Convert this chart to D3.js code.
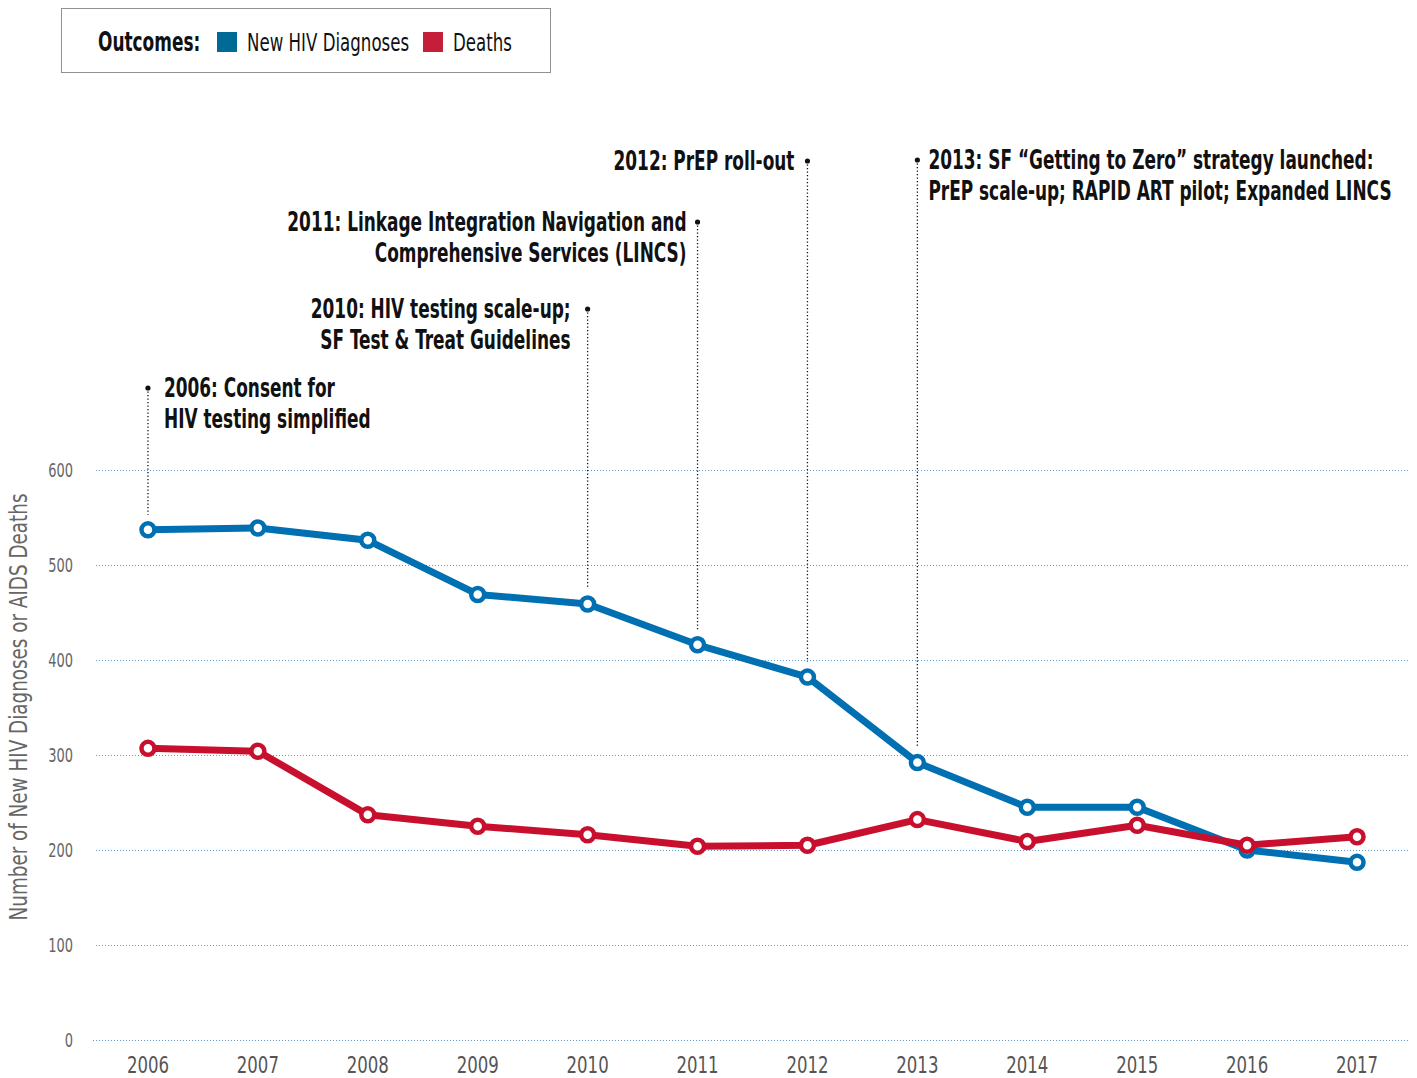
<!DOCTYPE html>
<html>
<head>
<meta charset="utf-8">
<script src="https://cdn.jsdelivr.net/npm/d3@7"></script>
<style>
  html, body { margin: 0; padding: 0; background: #fff; }
  svg { display: block; }
  text { font-family: "Liberation Sans Narrow", "DejaVu Sans Condensed", "DejaVu Sans", sans-serif; }
</style>
</head>
<body>
<svg id="chart" width="1417" height="1078"></svg>
<script>
// ---- data ----
const years = [2006, 2007, 2008, 2009, 2010, 2011, 2012, 2013, 2014, 2015, 2016, 2017];
const newDiagnoses = [537, 539, 526, 469, 459, 416, 382, 292, 245, 245, 200, 187];
const deaths = [307, 304, 237, 225, 216, 204, 205, 232, 209, 226, 205, 214];
const yTicks = [0, 100, 200, 300, 400, 500, 600];
const seriesNames = ["New HIV Diagnoses", "Deaths"];
const annotationYears = [2006, 2010, 2011, 2012, 2013];
const annotationTexts = [
  ["2006: Consent for", "HIV testing simplified"],
  ["2010: HIV testing scale-up;", "SF Test & Treat Guidelines"],
  ["2011: Linkage Integration Navigation and", "Comprehensive Services (LINCS)"],
  ["2012: PrEP roll-out"],
  ["2013: SF \u201cGetting to Zero\u201d strategy launched:", "PrEP scale-up; RAPID ART pilot; Expanded LINCS"]
];

// ---- layout / style ----
const annSide = ["right", "left", "left", "left", "right"];
const annDotY = [388, 309, 222, 161, 160];
const annGap = [16, 17, 11, 13, 11];
const lineColors = ["#0070b3", "#c8102e"];
const legendColors = ["#006a96", "#c41e3a"];
const BOLD_SQUEEZE = 0.725;

const svg = d3.select("#chart");
const x = d3.scalePoint().domain(years).range([93, 1412]).padding(0.5);
const y = d3.scaleLinear().domain([0, 600]).range([1040, 470]);

// helper: condensed text placed at (px, py)
function condText(parent, px, py, squeeze, rotate) {
  const g = parent.append("g")
    .attr("transform", `translate(${px},${py})` + (rotate ? ` rotate(${rotate})` : "") + ` scale(${squeeze},1)`);
  return g.append("text").attr("x", 0).attr("y", 0);
}

// gridlines
svg.append("g").selectAll("line").data(yTicks).join("line")
  .attr("x1", d => d === 0 ? 93 : 96).attr("x2", 1410)
  .attr("y1", d => y(d) + 0.5).attr("y2", d => y(d) + 0.5)
  .attr("stroke", "#5b9bd0").attr("stroke-width", 1).attr("stroke-dasharray", "1,2");

// y axis labels (positions from scale)
const gy = svg.append("g");
yTicks.forEach(v => {
  condText(gy, 73, y(v) + 7, 0.76).attr("text-anchor", "end")
    .attr("font-size", 19).attr("fill", "#666").text(v);
});

// x axis labels
const gx = svg.append("g");
years.forEach(yr => {
  condText(gx, x(yr), 1073, 0.8).attr("text-anchor", "middle")
    .attr("font-size", 23).attr("fill", "#555").text(yr);
});

// y axis title
condText(svg, 27, 707, 0.85, -90).attr("text-anchor", "middle")
  .attr("font-size", 24).attr("fill", "#666")
  .text("Number of New HIV Diagnoses or AIDS Deaths");

// annotations
const blueByYear = new Map(years.map((yr, i) => [yr, newDiagnoses[i]]));
const ann = svg.append("g");
annotationYears.forEach((yr, i) => {
  const ax = x(yr);
  const dy0 = annDotY[i];
  ann.append("line")
    .attr("x1", ax).attr("x2", ax).attr("y1", dy0).attr("y2", y(blueByYear.get(yr)) - 15)
    .attr("stroke", "#111").attr("stroke-width", 1.3).attr("stroke-dasharray", "1.3,2.2");
  ann.append("circle").attr("cx", ax).attr("cy", dy0).attr("r", 2.6).attr("fill", "#111");
  const right = annSide[i] === "right";
  const tx = right ? ax + annGap[i] : ax - annGap[i];
  const t = condText(ann, tx, dy0 + 9, BOLD_SQUEEZE)
    .attr("font-size", 26).attr("font-weight", "bold").attr("fill", "#111")
    .attr("text-anchor", right ? "start" : "end");
  annotationTexts[i].forEach((ln, j) => {
    t.append("tspan").attr("x", 0).attr("y", j * 31).text(ln);
  });
});

// lines
const series = [newDiagnoses, deaths];
const lineGen = d3.line().x((d, i) => x(years[i])).y(d => y(d));
series.forEach((s, k) => {
  svg.append("path").datum(s).attr("d", lineGen)
    .attr("fill", "none").attr("stroke", lineColors[k]).attr("stroke-width", 7)
    .attr("stroke-linejoin", "round");
});
series.forEach((s, k) => {
  svg.append("g").selectAll("circle").data(s).join("circle")
    .attr("cx", (d, i) => x(years[i])).attr("cy", d => y(d)).attr("r", 6.5)
    .attr("fill", "#fff").attr("stroke", lineColors[k]).attr("stroke-width", 4.5);
});

// legend
const lg = svg.append("g");
lg.append("rect").attr("x", 61.5).attr("y", 8.5).attr("width", 489).attr("height", 64)
  .attr("fill", "none").attr("stroke", "#222").attr("stroke-width", 1).attr("stroke-dasharray", "1,1");
condText(lg, 98, 51, BOLD_SQUEEZE).attr("font-size", 26).attr("font-weight", "bold")
  .attr("fill", "#111").text("Outcomes:");
const legX = [217, 423];
seriesNames.forEach((nm, k) => {
  lg.append("rect").attr("x", legX[k]).attr("y", 32).attr("width", 20).attr("height", 20).attr("fill", legendColors[k]);
  condText(lg, legX[k] + 30, 51, 0.74).attr("font-size", 25).attr("fill", "#111").text(nm);
});
</script>
</body>
</html>
